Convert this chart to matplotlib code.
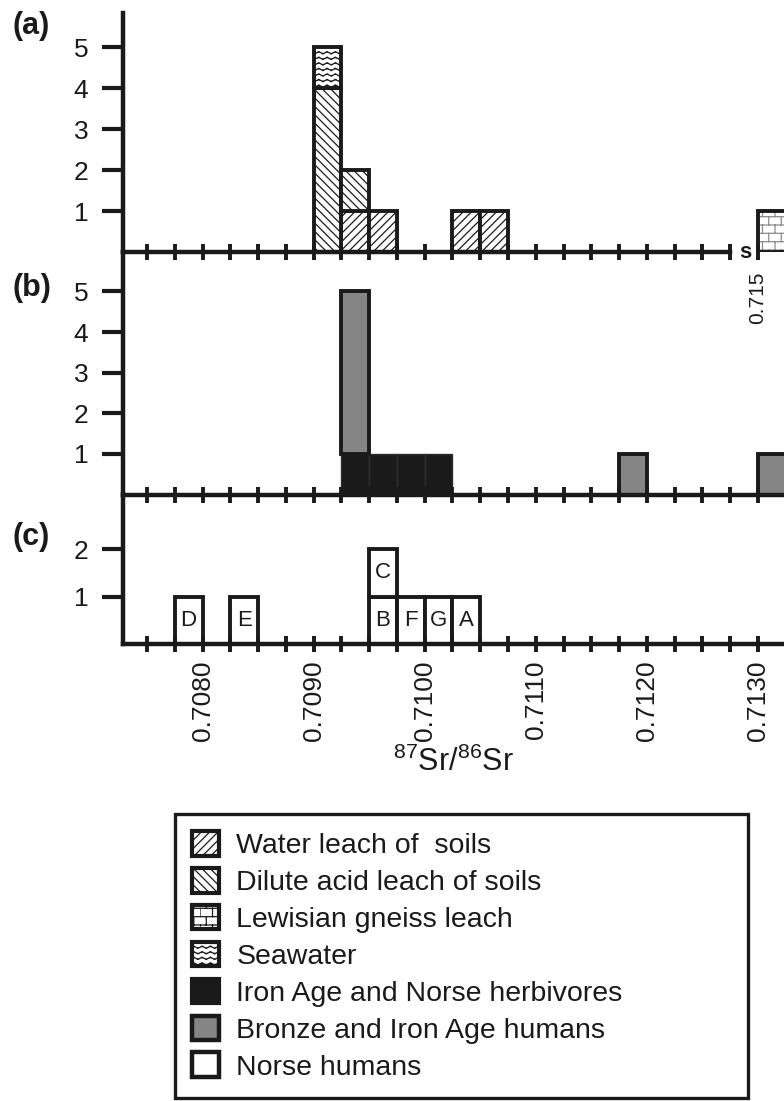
import warnings

import numpy as np
import matplotlib
matplotlib.use("Agg")
import matplotlib.pyplot as plt
import matplotlib.hatch as mhatch
from matplotlib.path import Path
from matplotlib.patches import Patch

warnings.filterwarnings("ignore", message="hatch must consist")

plt.rcParams["font.family"] = ["Liberation Sans", "DejaVu Sans"]
plt.rcParams["mathtext.default"] = "regular"
plt.rcParams["hatch.linewidth"] = 0.9

INK = "#1a1a1a"
GREY = "#858585"


# =========================
# Data: bin left edges (87Sr/86Sr) and counts
# =========================

BIN = 0.00025

# (a) soil leaches and reference materials
water_leach_x = [0.70925, 0.70950, 0.71025, 0.71050]
water_leach_n = [1, 1, 1, 1]
acid_leach_x = [0.70900, 0.70925]
acid_leach_n = [4, 1]
seawater_x = [0.70900]
seawater_n = [1]
gneiss_x = [0.71500]
gneiss_n = [1]

# (b) archaeological herbivores and humans
herbivore_x = [0.70925, 0.70950, 0.70975, 0.71000]
herbivore_n = [1, 1, 1, 1]
bronze_iron_x = [0.70925, 0.71175, 0.71300]
bronze_iron_n = [4, 1, 1]

# (c) Norse individuals
norse_x = [0.70775, 0.70825, 0.70950, 0.70950, 0.70975, 0.71000, 0.71025]
norse_id = ["D", "E", "B", "C", "F", "G", "A"]

x_tick_values = [0.7080, 0.7090, 0.7100, 0.7110, 0.7120, 0.7130]
gneiss_tick_label = "0.715"


# =========================
# Extra hatch patterns: waves (seawater) and bricks (gneiss)
# =========================

class WaveHatch(mhatch.HatchPatternBase):
    steps = 48

    def __init__(self, hatch, density):
        self.num_rows = int(hatch.count("w") * density)
        self.num_vertices = self.num_rows * (self.steps + 1)

    def set_vertices_and_codes(self, vertices, codes):
        t = np.linspace(0.0, 1.0, self.steps + 1)
        n = self.steps + 1
        for i in range(self.num_rows):
            y0 = (i + 0.5) / self.num_rows
            vertices[i * n:(i + 1) * n, 0] = t
            vertices[i * n:(i + 1) * n, 1] = y0 + 0.012 * np.sin(2 * np.pi * 12 * t)
            codes[i * n:(i + 1) * n] = Path.LINETO
            codes[i * n] = Path.MOVETO


class BrickHatch(mhatch.HatchPatternBase):
    bricks = 8

    def __init__(self, hatch, density):
        self.num_rows = int(hatch.count("b") * density)
        self.num_vertices = self.num_rows * 2 * (1 + self.bricks)

    def set_vertices_and_codes(self, vertices, codes):
        k = 0
        for i in range(self.num_rows):
            y0 = i / self.num_rows
            y1 = (i + 1) / self.num_rows
            vertices[k] = (0.0, y0)
            vertices[k + 1] = (1.0, y0)
            k += 2
            shift = 0.5 * (i % 2)
            for j in range(self.bricks):
                xv = (j + shift) / self.bricks
                vertices[k] = (xv, y0)
                vertices[k + 1] = (xv, y1)
                k += 2
        codes[0::2] = Path.MOVETO
        codes[1::2] = Path.LINETO


mhatch._hatch_types.append(WaveHatch)
mhatch._hatch_types.append(BrickHatch)


# =========================
# Helpers
# =========================

def stack(ax, level, xs, ns, **style):
    bottoms = [level.get(round(x, 5), 0) for x in xs]
    ax.bar(xs, ns, width=BIN, bottom=bottoms, align="edge", **style)
    for x, n in zip(xs, ns):
        level[round(x, 5)] = level.get(round(x, 5), 0) + n
    return bottoms


W, H = 784, 1101


def box(left, top, right, bottom):
    return [left / W, 1 - bottom / H, (right - left) / W, (bottom - top) / H]


XMIN, XMAX = 0.707284, 0.713235
BREAK_AT = 0.7130
ticks = np.round(np.arange(0.7075, 0.71301, BIN), 5)

fig = plt.figure(figsize=(W / 100, H / 100), dpi=100)
ax_a = fig.add_axes(box(123, 13, 784, 252))
ax_b = fig.add_axes(box(123, 252, 784, 494.5))
ax_c = fig.add_axes(box(123, 494.5, 784, 644))

for ax in (ax_a, ax_b, ax_c):
    ax.set_facecolor("none")
    ax.set_xlim(XMIN, XMAX)
    ax.spines["top"].set_visible(False)
    ax.spines["right"].set_visible(False)
    for side in ("left", "bottom"):
        ax.spines[side].set_linewidth(3.2)
        ax.spines[side].set_color(INK)
    ax.tick_params(axis="x", direction="inout", length=12, width=2.8,
                   color=INK, labelcolor=INK, labelrotation=90)
    ax.tick_params(axis="y", direction="out", length=15, width=3,
                   pad=10, labelsize=19, color=INK, labelcolor=INK)

bar_edge = dict(edgecolor=INK, linewidth=2.8)

# ---- (a)
level = {}
stack(ax_a, level, water_leach_x, water_leach_n, facecolor="white", hatch="////", **bar_edge)
stack(ax_a, level, acid_leach_x, acid_leach_n, facecolor="white", hatch="\\\\\\\\", **bar_edge)
stack(ax_a, level, seawater_x, seawater_n, facecolor="white", hatch="www", **bar_edge)
gneiss_pos = [BREAK_AT + (x - gneiss_x[0]) for x in gneiss_x]
ax_a.bar(gneiss_pos, gneiss_n, width=BIN, align="edge", facecolor="white",
         edgecolor="#8c8c8c", hatch="bb", linewidth=0)
ax_a.bar(gneiss_pos, gneiss_n, width=BIN, align="edge", fill=False, **bar_edge)
ax_a.set_ylim(0, 5.84)
ax_a.set_yticks([1, 2, 3, 4, 5])
ax_a.spines["bottom"].set_bounds(XMIN, BREAK_AT - BIN)
ax_a.set_xticks(ticks, ["" for t in ticks[:-1]] + [gneiss_tick_label])
ax_a.tick_params(axis="x", labelsize=15, pad=8)
ax_a.text(BREAK_AT - 0.000117, 0, "s", fontsize=16, fontweight="bold",
          ha="center", va="center", color=INK, clip_on=False)

# ---- (b)
level = {}
stack(ax_b, level, herbivore_x, herbivore_n, facecolor=INK, edgecolor="#2e2e2e", linewidth=1.0)
stack(ax_b, level, bronze_iron_x, bronze_iron_n, facecolor=GREY, **bar_edge)
ax_b.set_ylim(0, 5.97)
ax_b.set_yticks([1, 2, 3, 4, 5])
ax_b.set_xticks(ticks, ["" for t in ticks])

# ---- (c)
level = {}
for x, name in zip(norse_x, norse_id):
    b = stack(ax_c, level, [x], [1], facecolor="white", **bar_edge)
    ax_c.text(x + BIN / 2, b[0] + 0.5, name, ha="center", va="center",
              fontsize=16, color=INK)
ax_c.set_ylim(0, 3.15)
ax_c.set_yticks([1, 2])
labels_c = [f"{t:.4f}" if any(abs(t - v) < 1e-7 for v in x_tick_values) else ""
            for t in ticks]
ax_c.set_xticks(ticks, labels_c)
ax_c.tick_params(axis="x", labelsize=19, pad=6)
ax_c.set_xlabel(r"$^{87}$Sr/$^{86}$Sr", fontsize=22, color=INK, labelpad=4)

# ---- panel letters
for label, y in (("(a)", 26), ("(b)", 288), ("(c)", 537)):
    fig.text(12 / W, 1 - y / H, label, fontsize=22, fontweight="bold",
             ha="left", va="center", color=INK)

# ---- legend
handles = [
    Patch(facecolor="white", edgecolor=INK, hatch="////", linewidth=3, label="Water leach of  soils"),
    Patch(facecolor="white", edgecolor=INK, hatch="\\\\\\\\", linewidth=3, label="Dilute acid leach of soils"),
    Patch(facecolor="white", edgecolor=INK, hatch="bb", linewidth=3, label="Lewisian gneiss leach"),
    Patch(facecolor="white", edgecolor=INK, hatch="www", linewidth=3, label="Seawater"),
    Patch(facecolor=INK, edgecolor=INK, linewidth=3, label="Iron Age and Norse herbivores"),
    Patch(facecolor=GREY, edgecolor=INK, linewidth=3.2, label="Bronze and Iron Age humans"),
    Patch(facecolor="white", edgecolor=INK, linewidth=3.2, label="Norse humans"),
]
leg = fig.legend(handles=handles, loc="upper left",
                 bbox_to_anchor=(175 / W, 1 - 1099 / H, (748 - 175) / W, (1099 - 814) / H),
                 mode="expand", fontsize=20.5, frameon=True, fancybox=False,
                 edgecolor=INK, framealpha=1, borderaxespad=0, borderpad=0.6,
                 labelspacing=0.31, handlelength=0.95, handleheight=0.95,
                 handletextpad=0.6)
leg.get_frame().set_linewidth(2.4)
for txt in leg.get_texts():
    txt.set_color(INK)

fig.savefig("out.png", dpi=100)
